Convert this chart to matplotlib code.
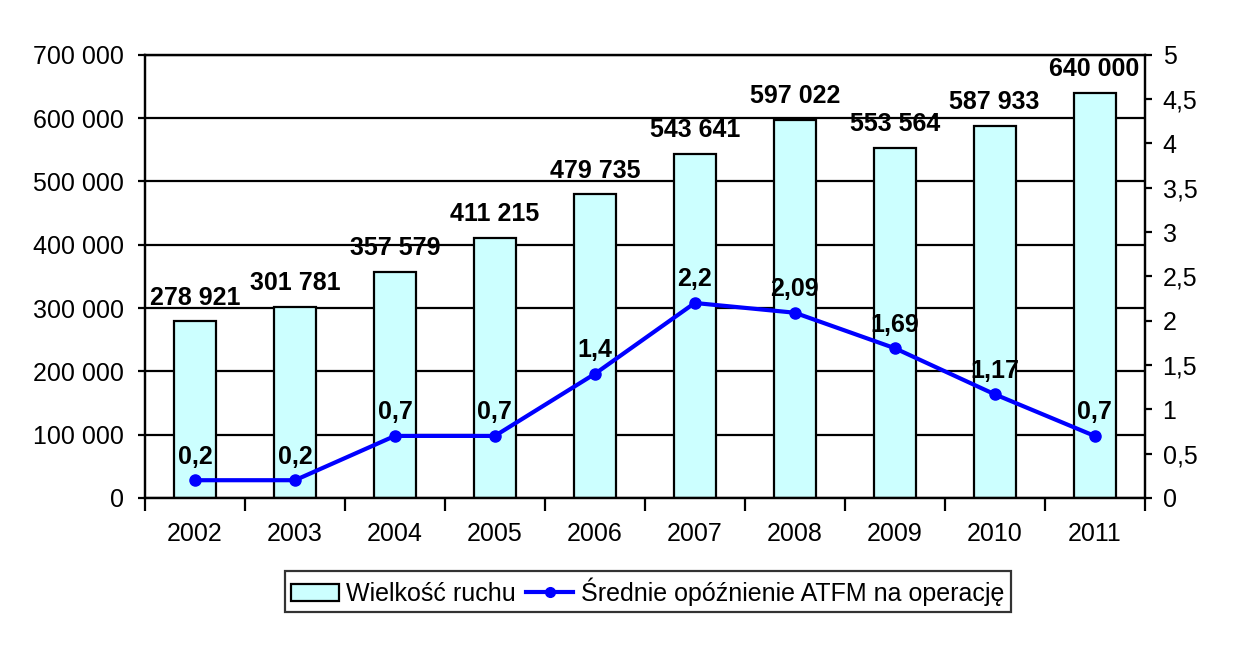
import matplotlib.pyplot as plt
from matplotlib.ticker import FuncFormatter, MultipleLocator
from matplotlib.lines import Line2D
from matplotlib.patches import Patch

plt.rcParams['font.family'] = ['Liberation Sans', 'DejaVu Sans']

# dane
years = ['2002', '2003', '2004', '2005', '2006', '2007', '2008', '2009', '2010', '2011']
traffic = [278921, 301781, 357579, 411215, 479735, 543641, 597022, 553564, 587933, 640000]
delay = [0.2, 0.2, 0.7, 0.7, 1.4, 2.2, 2.09, 1.69, 1.17, 0.7]

bar_color = '#CCFFFF'
line_color = '#0000FF'
fs = 18


def fmt_thousands(v, pos=None):
    return f'{int(round(v)):,}'.replace(',', ' ')


def fmt_comma(v, pos=None):
    s = f'{v:g}'
    return s.replace('.', ',')


fig = plt.figure(figsize=(12.4, 6.45), dpi=100)
ax = fig.add_axes([0.117, 0.228, 0.806, 0.687])
x = list(range(len(years)))

# słupki
ax.bar(x, traffic, width=0.42, color=bar_color, edgecolor='black', linewidth=1.6, zorder=2)
ax.set_ylim(0, 700000)
ax.set_xlim(-0.5, len(years) - 0.5)
ax.yaxis.set_major_locator(MultipleLocator(100000))
ax.yaxis.set_major_formatter(FuncFormatter(fmt_thousands))
ax.grid(axis='y', color='black', linewidth=1.6)
ax.set_axisbelow(True)
ax.set_xticks(x)
ax.set_xticklabels(years)
ax.set_xticks([i - 0.5 for i in range(len(years) + 1)], minor=True)
ax.tick_params(axis='x', which='major', length=0, pad=17, labelsize=fs)
ax.tick_params(axis='x', which='minor', length=9, width=1.6)
ax.tick_params(axis='y', length=5, width=1.6, labelsize=fs, pad=10)
for s in ax.spines.values():
    s.set_linewidth(1.6)

for xi, v in zip(x, traffic):
    ax.annotate(fmt_thousands(v), (xi, v), xytext=(0, 17), textcoords='offset points',
                ha='center', va='center', fontsize=fs, fontweight='bold')

# linia - opóźnienie
ax2 = ax.twinx()
ax2.plot(x, delay, color=line_color, linewidth=3, marker='o', markersize=8, zorder=3)
ax2.set_ylim(0, 5)
ax2.yaxis.set_major_locator(MultipleLocator(0.5))
ax2.yaxis.set_major_formatter(FuncFormatter(fmt_comma))
ax2.tick_params(axis='y', length=5, width=1.6, labelsize=fs, pad=8)
for s in ax2.spines.values():
    s.set_linewidth(1.6)

for xi, v in zip(x, delay):
    ax2.annotate(fmt_comma(v), (xi, v), xytext=(0, 17), textcoords='offset points',
                 ha='center', va='center', fontsize=fs, fontweight='bold')

# legenda
handles = [
    Patch(facecolor=bar_color, edgecolor='black', linewidth=1.6, label='Wielkość ruchu'),
    Line2D([0], [0], color=line_color, linewidth=3, marker='o', markersize=7,
           label='Średnie opóźnienie ATFM na operację'),
]
leg = ax.legend(handles=handles, loc='center', bbox_to_anchor=(0.503, -0.212), ncol=2,
                fontsize=fs, frameon=True, fancybox=False, handlelength=1.9,
                handletextpad=0.3, columnspacing=0.4, borderpad=0.25, borderaxespad=0)
leg.get_frame().set_edgecolor('black')
leg.get_frame().set_linewidth(1.6)

fig.savefig('out.png', dpi=100)
